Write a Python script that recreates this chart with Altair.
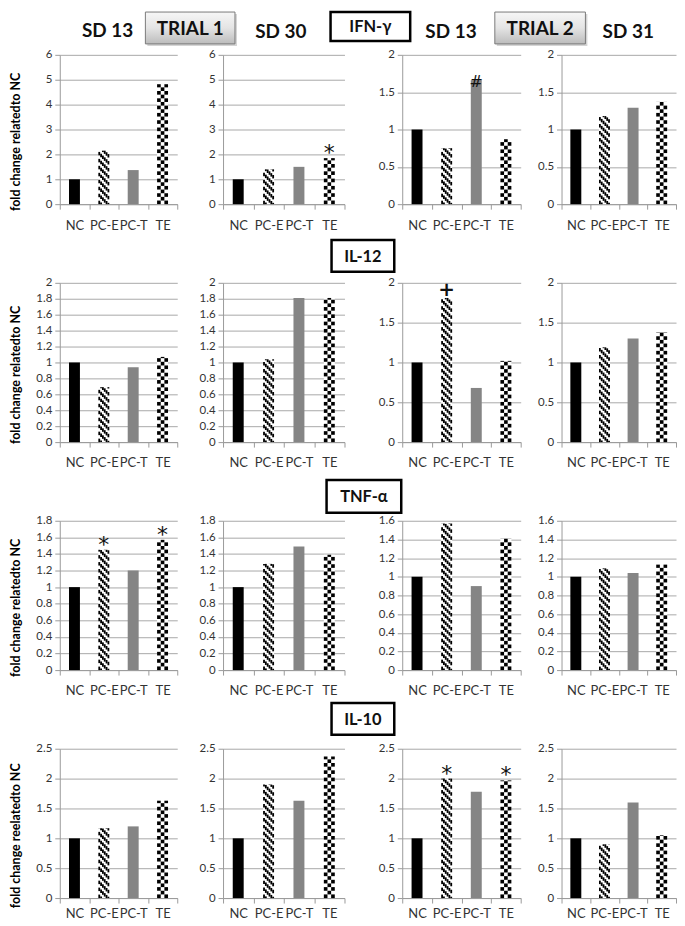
import altair as alt
import pandas as pd

# ---------------- data ----------------
categories = ["NC", "PC-E", "PC-T", "TE"]
cytokines = ["IFN-γ", "IL-12", "TNF-α", "IL-10"]
sampling_days = ["SD 13", "SD 30", "SD 13", "SD 31"]
trials = ["TRIAL 1", "TRIAL 2"]

# fold change per panel: [Trial1 SD13, Trial1 SD30, Trial2 SD13, Trial2 SD31]
ifn_g = [[1.00, 2.15, 1.37, 4.82], [1.00, 1.40, 1.50, 1.85],
         [1.00, 0.75, 1.66, 0.87], [1.00, 1.18, 1.29, 1.37]]
il_12 = [[1.00, 0.69, 0.94, 1.07], [1.00, 1.04, 1.81, 1.81],
         [1.00, 1.81, 0.68, 1.02], [1.00, 1.19, 1.30, 1.38]]
tnf_a = [[1.00, 1.45, 1.20, 1.57], [1.00, 1.28, 1.49, 1.39],
         [1.00, 1.57, 0.90, 1.41], [1.00, 1.09, 1.04, 1.13]]
il_10 = [[1.00, 1.17, 1.20, 1.63], [1.00, 1.90, 1.63, 2.37],
         [1.00, 2.00, 1.78, 1.97], [1.00, 0.90, 1.60, 1.05]]
row_values = [ifn_g, il_12, tnf_a, il_10]

y_max = [[6, 6, 2, 2], [2, 2, 2, 2], [1.8, 1.8, 1.6, 1.6], [2.5, 2.5, 2.5, 2.5]]
y_step = [[1, 1, 0.5, 0.5], [0.2, 0.2, 0.5, 0.5], [0.2, 0.2, 0.2, 0.2], [0.5, 0.5, 0.5, 0.5]]

# significance symbols: (row, column, category, symbol)
sig_marks = [(0, 1, "TE", "*"), (0, 2, "PC-T", "#"), (1, 2, "PC-E", "+"),
             (2, 0, "PC-E", "*"), (2, 0, "TE", "*"), (3, 2, "PC-E", "*"), (3, 2, "TE", "*")]

y_titles = ["fold change relatedto NC", "fold change relatedto NC",
            "fold change relatedto NC", "fold change reelatedto NC"]

# ---------------- layout / style ----------------
WIDTHS = [118, 122, 119, 115]
GAPS = [46, 58, 41]
HEIGHTS = [150, 160, 150, 150]
X_LABEL_PAD = [10, 10, 10, 5]
BAR_W = 11
FONT = "Lato"
bar_colors = ["#000000", "#ffffff", "#858585", "#ffffff"]
sym_style = {"*": (22, 2, "normal"), "#": (16, 7, "normal"), "+": (20, -2, "bold")}


def x_enc(r):
    return alt.X("cat:N",
                 scale=alt.Scale(domain=categories, paddingInner=0, paddingOuter=0),
                 axis=alt.Axis(title=None, labelAngle=0, tickBand="extent", labelOverlap=False,
                               grid=False, tickSize=5, labelPadding=X_LABEL_PAD[r], labelFontSize=13,
                               labelBound=False, labelFlush=False))


def y_axis(r, c):
    ticks = [round(i * y_step[r][c], 2) for i in range(int(round(y_max[r][c] / y_step[r][c])) + 1)]
    kw = dict(values=ticks, format="~g", grid=True, tickSize=5, labelPadding=3, labelFontSize=11.5)
    if c == 0:
        kw.update(title=y_titles[r], titleX=-37, titleY=HEIGHTS[r] / 2 + 12, titleFont=FONT,
                  titleFontWeight="bold", titleFontSize=12.5, titleColor="#000000")
    else:
        kw.update(title=None)
    return alt.Axis(**kw)


def y_enc(field, r, c):
    return alt.Y(field, scale=alt.Scale(domain=[0, y_max[r][c]], nice=False, zero=True),
                 axis=y_axis(r, c))


def pattern_layers(df, r, c, cat, ncols, period, black, shift):
    f = y_max[r][c] / HEIGHTS[r]
    cw = BAR_W / ncols
    out = []
    for k in range(ncols):
        off = (k * shift) % period
        out.append(
            alt.Chart(df)
            .transform_filter(alt.datum.cat == cat)
            .transform_calculate(s=f"sequence({-off * f}, datum.value, {period * f})")
            .transform_flatten(["s"])
            .transform_calculate(y0="max(datum.s, 0)", y1=f"min(datum.s + {black * f}, datum.value)")
            .transform_filter("datum.y1 > datum.y0")
            .mark_bar(size=cw, xOffset=-BAR_W / 2 + (k + 0.5) * cw, color="#000000")
            .encode(x=x_enc(r), y=y_enc("y0:Q", r, c), y2="y1:Q")
        )
    return out


def box(x1, x2, y1, y2, label, size, fill, stroke, sw, shadow=False):
    one = pd.DataFrame({"t": [label]})
    layers = []
    if shadow:
        layers.append(alt.Chart(one).mark_rect(fill="#d4d4d4").encode(
            x=alt.value(x1 + 2), x2=alt.value(x2 + 2), y=alt.value(y1 + 2), y2=alt.value(y2 + 2)))
    layers.append(alt.Chart(one).mark_rect(fill=fill, stroke=stroke, strokeWidth=sw).encode(
        x=alt.value(x1), x2=alt.value(x2), y=alt.value(y1), y2=alt.value(y2)))
    layers.append(alt.Chart(one).mark_text(font=FONT, fontWeight="bold", fontSize=size,
                                           baseline="middle", align="center", color="#111111").encode(
        x=alt.value((x1 + x2) / 2), y=alt.value((y1 + y2) / 2 + 1), text="t:N"))
    return layers


def label(x, y, text, size):
    one = pd.DataFrame({"t": [text]})
    return alt.Chart(one).mark_text(font=FONT, fontWeight="bold", fontSize=size, baseline="alphabetic",
                                    align="center", color="#111111").encode(
        x=alt.value(x), y=alt.value(y), text="t:N")


trial_grad = alt.Gradient(gradient="linear", x1=0, x2=0, y1=0, y2=1,
                          stops=[alt.GradientStop(color="#f6f6f6", offset=0),
                                 alt.GradientStop(color="#e4e4e4", offset=0.5),
                                 alt.GradientStop(color="#bcbcbc", offset=1)])

# cytokine box positions relative to the first panel of each row (x1, x2, y1, y2)
cyto_box = [(272, 352, -43, -14), (273, 336, -43, -11), (268, 343, -41, -8), (273, 336, -46, -14)]


def panel(r, c):
    vals = row_values[r][c]
    df = pd.DataFrame({"cat": categories, "value": vals})
    bars = alt.Chart(df).mark_bar(size=BAR_W).encode(
        x=x_enc(r), y=y_enc("value:Q", r, c),
        fill=alt.Fill("cat:N", scale=alt.Scale(domain=categories, range=bar_colors), legend=None))
    layers = [bars]
    layers += pattern_layers(df, r, c, "PC-E", 6, 7, 3.5, BAR_W / 6)
    layers += pattern_layers(df, r, c, "TE", 3, 2 * BAR_W / 3, BAR_W / 3, BAR_W / 3)
    ann = [(cat, sym) for (rr, cc, cat, sym) in sig_marks if rr == r and cc == c]
    for sym in sorted(set(a[1] for a in ann)):
        sub = [a for a in ann if a[1] == sym]
        size, dy, weight = sym_style[sym]
        adf = pd.DataFrame({"cat": [a[0] for a in sub], "sym": [a[1] for a in sub],
                            "value": [vals[categories.index(a[0])] for a in sub]})
        layers.append(alt.Chart(adf).mark_text(font="DejaVu Sans", fontSize=size, fontWeight=weight,
                                               baseline="alphabetic", dy=dy, color="#111111").encode(
            x=x_enc(r), y=y_enc("value:Q", r, c), text="sym:N"))
    if c == 0:
        x1, x2, y1, y2 = cyto_box[r]
        layers += box(x1, x2, y1, y2, cytokines[r], 16.5, "#ffffff", "#000000", 2.5)
        if r == 0:
            layers.append(label(48, -18, sampling_days[0], 19))
            layers += box(86, 176, -43, -11, trials[0], 19, trial_grad, "#7a7a7a", 1, shadow=True)
            layers.append(label(222, -17, sampling_days[1], 19))
            layers.append(label(393, -17, sampling_days[2], 19))
            layers += box(437, 528, -43, -11, trials[1], 19, trial_grad, "#7a7a7a", 1, shadow=True)
            layers.append(label(571, -17, sampling_days[3], 19))
    return alt.layer(*layers).properties(width=WIDTHS[c], height=HEIGHTS[r])


def spacer(w, h):
    one = pd.DataFrame({"t": [""]})
    return alt.Chart(one).mark_rect(opacity=0).encode(
        x=alt.value(0), x2=alt.value(1), y=alt.value(0), y2=alt.value(1)).properties(width=w, height=h)


cells = []
for r in range(4):
    for c in range(4):
        cells.append(panel(r, c))
        if c < 3:
            cells.append(spacer(GAPS[c], HEIGHTS[r]))

chart = (
    alt.concat(*cells, columns=7, spacing={"row": 79, "column": 0}, bounds="flush", align="each")
    .properties(padding={"left": 2, "top": 0, "right": 0, "bottom": 0})
    .configure_view(stroke=None)
    .configure_axis(domainColor="#9a9a9a", tickColor="#9a9a9a", gridColor="#a8a8a8",
                    labelColor="#333333", labelFont=FONT, domainWidth=1, tickWidth=1, gridWidth=1)
)

chart.save("out.html", embed_options={"renderer": "svg", "actions": False})
